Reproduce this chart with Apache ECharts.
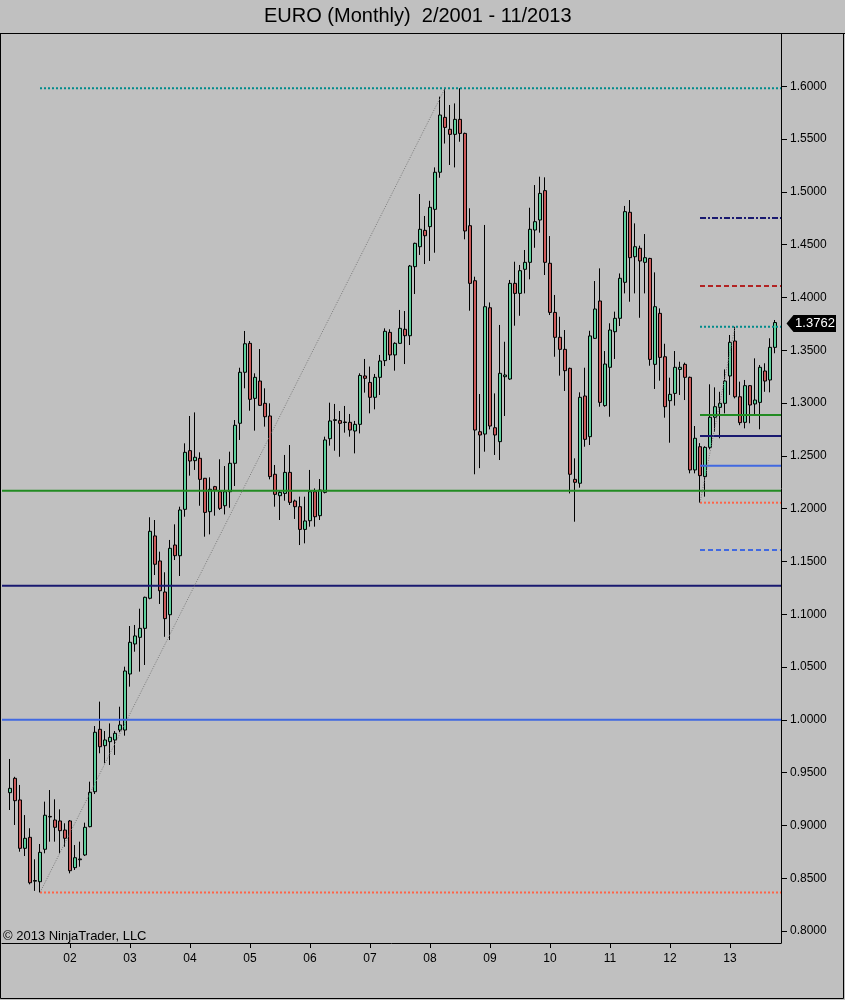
<!DOCTYPE html>
<html>
<head>
<meta charset="utf-8">
<script src="https://cdn.jsdelivr.net/npm/echarts@6/dist/echarts.min.js"></script>
<style>
html,body{margin:0;padding:0;background:#C0C0C0;}
#c{width:845px;height:1000px;}
</style>
</head>
<body>
<div id="c"></div>
<script>
// ---- Monthly bars, index 0 = Jan 2001 ... index 153 = Oct 2013 ----
const months = [];
for (let y = 2001; y <= 2013; y++) {
  for (let m = 1; m <= 12; m++) {
    if (y === 2013 && m > 10) break;
    months.push(y + '-' + (m < 10 ? '0' + m : m));
  }
}

const opens = [
0.9310,0.9446,0.9241,0.8783,0.8887,0.8472,0.8467,0.8774,0.9085,0.9051,0.9042,0.8956,
0.9042,0.8600,0.8675,0.8720,0.8988,0.9319,0.9910,0.9755,0.9793,0.9809,0.9903,0.9903,
1.0434,1.0718,1.0781,1.0866,1.1151,1.1741,1.1504,1.1210,1.0995,1.1655,1.1554,1.1993,
1.2549,1.2454,1.2476,1.2287,1.1971,1.2208,1.2160,1.2027,1.2160,1.2429,1.2808,1.3291,
1.3565,1.3044,1.3208,1.2997,1.2877,1.2325,1.2122,1.2144,1.2343,1.2072,1.2018,1.1803,
1.1885,1.2160,1.1933,1.2154,1.2662,1.2835,1.2833,1.2815,1.2817,1.2735,1.2798,1.3256,
1.3195,1.3054,1.3243,1.3401,1.3669,1.3455,1.3565,1.3698,1.3637,1.4291,1.4480,1.4635,
1.4670,1.4834,1.5185,1.5705,1.5592,1.5544,1.5686,1.5553,1.4679,1.4158,1.2728,1.2706,
1.3902,1.2766,1.2634,1.3249,1.3227,1.4133,1.4038,1.4266,1.4332,1.4638,1.4733,1.5011,
1.4323,1.3858,1.3622,1.3508,1.3328,1.2277,1.2240,1.3066,1.2681,1.3612,1.3966,1.2975,
1.3338,1.3675,1.3802,1.4143,1.4806,1.4385,1.4465,1.4332,1.4369,1.3366,1.3849,1.3438,
1.3022,1.3091,1.3318,1.3366,1.3243,1.2366,1.2586,1.2303,1.2580,1.2865,1.2959,1.2997,
1.3256,1.3587,1.3059,1.2817,1.3164,1.2991,1.3006,1.3303,1.3218,1.3527
];
const highs = [
0.9629,0.9460,0.9383,0.9098,0.8973,0.8679,0.8824,0.9225,0.9335,0.9247,0.9152,0.9020,
0.9051,0.8814,0.8846,0.9026,0.9414,0.9941,1.0172,0.9894,0.9966,0.9894,1.0124,1.0503,
1.0888,1.0898,1.1052,1.1166,1.1918,1.1892,1.1592,1.1397,1.1703,1.1851,1.2018,1.2618,
1.2877,1.2911,1.2533,1.2290,1.2296,1.2215,1.2467,1.2403,1.2539,1.2839,1.3334,1.3682,
1.3587,1.3281,1.3511,1.3139,1.2997,1.2413,1.2170,1.2508,1.2602,1.2085,1.2113,1.2113,
1.2366,1.2191,1.2280,1.2681,1.3003,1.2991,1.2924,1.2972,1.2896,1.2830,1.3281,1.3417,
1.3345,1.3275,1.3455,1.3707,1.3698,1.3575,1.3881,1.3871,1.4307,1.4518,1.4979,1.4771,
1.4915,1.5231,1.5901,1.5971,1.5822,1.5837,1.5980,1.5560,1.4844,1.4196,1.3085,1.4686,
1.3952,1.3091,1.3739,1.3580,1.4165,1.4338,1.4307,1.4449,1.4849,1.5064,1.5143,1.5137,
1.4581,1.4023,1.3817,1.3691,1.3335,1.2476,1.3101,1.3334,1.3684,1.4155,1.4275,1.3492,
1.3755,1.3865,1.4227,1.4866,1.4922,1.4701,1.4490,1.4600,1.4375,1.4237,1.3896,1.3561,
1.3240,1.3492,1.3391,1.3382,1.3250,1.2782,1.2620,1.2590,1.3177,1.3148,1.3106,1.3318,
1.3644,1.3722,1.3202,1.3218,1.3170,1.3423,1.3360,1.3376,1.3613,1.3786
];
const lows = [
0.9146,0.9004,0.8751,0.8710,0.8442,0.8380,0.8365,0.8736,0.8846,0.8846,0.8736,0.8798,
0.8546,0.8578,0.8609,0.8710,0.8982,0.9297,0.9683,0.9588,0.9572,0.9667,0.9882,0.9850,
1.0314,1.0645,1.0456,1.0519,1.1141,1.1371,1.1097,1.0786,1.0756,1.1513,1.1362,1.1923,
1.2312,1.2366,1.2027,1.1734,1.1756,1.1933,1.1987,1.1945,1.2008,1.2214,1.2650,1.3139,
1.2927,1.2738,1.2972,1.2776,1.2277,1.2018,1.1892,1.2075,1.2034,1.1902,1.1655,1.1671,
1.1829,1.1829,1.1892,1.2144,1.2596,1.2548,1.2491,1.2719,1.2681,1.2523,1.2712,1.3098,
1.2902,1.2940,1.3076,1.3350,1.3407,1.3306,1.3561,1.3369,1.3549,1.4032,1.4402,1.4316,
1.4345,1.4423,1.5133,1.5457,1.5254,1.5231,1.5474,1.4550,1.3874,1.2325,1.2383,1.2539,
1.2750,1.2508,1.2460,1.2877,1.3218,1.3732,1.3826,1.4038,1.4171,1.4470,1.4613,1.4212,
1.3833,1.3438,1.3259,1.3114,1.2144,1.1876,1.2198,1.2586,1.2602,1.3606,1.2965,1.2965,
1.2870,1.3417,1.3729,1.4038,1.3959,1.4038,1.3807,1.4038,1.3353,1.3133,1.3211,1.2861,
1.2624,1.2975,1.3076,1.3028,1.2334,1.2334,1.2056,1.2113,1.2561,1.2728,1.2666,1.2902,
1.3076,1.3044,1.2790,1.2760,1.2808,1.2886,1.2751,1.3106,1.3101,1.3471
];
const closes = [
0.9351,0.9234,0.8783,0.8878,0.8457,0.8478,0.8745,0.9096,0.9080,0.8982,0.8950,0.8878,
0.8571,0.8694,0.8682,0.8982,0.9313,0.9882,0.9745,0.9809,0.9834,0.9872,0.9951,1.0462,
1.0734,1.0794,1.0866,1.1160,1.1785,1.1473,1.1222,1.0958,1.1624,1.1554,1.1987,1.2533,
1.2451,1.2486,1.2277,1.1964,1.2183,1.2176,1.2002,1.2160,1.2429,1.2789,1.3291,1.3561,
1.3035,1.3243,1.2978,1.2870,1.2303,1.2135,1.2154,1.2343,1.2059,1.2018,1.1803,1.1883,
1.2160,1.1923,1.2176,1.2650,1.2830,1.2842,1.2808,1.2820,1.2744,1.2798,1.3261,1.3234,
1.3054,1.3243,1.3398,1.3679,1.3455,1.3565,1.3707,1.3637,1.4297,1.4512,1.4645,1.4584,
1.4853,1.5185,1.5727,1.5610,1.5544,1.5686,1.5553,1.4629,1.4133,1.2744,1.2697,1.3912,
1.2782,1.2697,1.3281,1.3265,1.4133,1.4038,1.4253,1.4332,1.4645,1.4717,1.4985,1.4332,
1.3858,1.3622,1.3508,1.3306,1.2325,1.2249,1.3054,1.2656,1.3635,1.3890,1.3006,1.3369,
1.3691,1.3802,1.4181,1.4812,1.4376,1.4480,1.4345,1.4376,1.3413,1.3912,1.3432,1.2965,
1.3082,1.3338,1.3338,1.3243,1.2366,1.2666,1.2312,1.2580,1.2865,1.2965,1.2997,1.3208,
1.3575,1.3059,1.2814,1.3164,1.2981,1.3028,1.3338,1.3208,1.3527,1.3762
];

// Axis ticks
const yearTicks  = [12,24,36,48,60,72,84,96,108,120,132,144];   // January of each year
const yearLabels = ['02','03','04','05','06','07','08','09','10','11','12','13'];
const priceTicks = [0.80,0.85,0.90,0.95,1.00,1.05,1.10,1.15,1.20,1.25,1.30,1.35,1.40,1.45,1.50,1.55,1.60];

// Drawn levels (price values), anchored at bar indices
const longLevels      = [1.5980, 0.8365, 1.0000, 1.1270, 1.2170];
const longLevelStart  = [6, 6, null, null, null];       // null = from left edge
const shortLevels     = [1.4752, 1.4108, 1.3722, 1.2886, 1.2688, 1.2406, 1.2056, 1.1608];
const shortLevelStart = 138;
const trendLines = [
  [[6, 0.8365], [87, 1.5980]],
  [[138, 1.2056], [145, 1.3722]]
];

// ---- styles ----
const longStyles = [
  {color:'#008B8B', width:2, type:[2,2]},
  {color:'#FF6347', width:2, type:[2,2]},
  {color:'#4169E1', width:2, type:'solid'},
  {color:'#191970', width:2, type:'solid'},
  {color:'#228B22', width:2, type:'solid'}
];
const shortStyles = [
  {color:'#191970', width:2, type:[6,2,2,2]},
  {color:'#B22222', width:2, type:[5,3]},
  {color:'#008B8B', width:2, type:[2,2]},
  {color:'#228B22', width:2, type:'solid'},
  {color:'#191970', width:2, type:'solid'},
  {color:'#4169E1', width:2, type:'solid'},
  {color:'#FF6347', width:2, type:[2,2]},
  {color:'#4169E1', width:2, type:[5,3]}
];

const X_MIN = -1.6, X_MAX = 154.2;
const Y_MIN = 0.78864, Y_MAX = 1.64943;
const FONT = 'Liberation Sans, Arial, sans-serif';

const chart = echarts.init(document.getElementById('c'), null, {renderer:'canvas'});

const series = [{
  type: 'candlestick',
  name: 'EURO',
  data: opens.map((o, i) => [i, o, closes[i], lows[i], highs[i]]),
  barWidth: 3,
  itemStyle: {
    color: '#5DD09C', color0: '#CB5A5A',
    borderColor: '#000', borderColor0: '#000', borderColorDoji: '#000',
    borderWidth: 1
  },
  z: 2
}];

longLevels.forEach((v, k) => {
  const x0 = longLevelStart[k] == null ? X_MIN : longLevelStart[k];
  series.push({
    type: 'line', silent: true, symbol: 'none', animation: false, z: 3,
    data: [[x0, v], [X_MAX, v]],
    lineStyle: longStyles[k]
  });
});
shortLevels.forEach((v, k) => {
  series.push({
    type: 'line', silent: true, symbol: 'none', animation: false, z: 3,
    data: [[shortLevelStart, v], [X_MAX, v]],
    lineStyle: shortStyles[k]
  });
});
trendLines.forEach(seg => {
  series.push({
    type: 'line', silent: true, symbol: 'none', animation: false, z: 3,
    data: seg,
    lineStyle: {color:'#7a7a7a', width:1, type:[1,1.5]}
  });
});

chart.setOption({
  backgroundColor: '#C0C0C0',
  animation: false,
  title: {
    text: 'EURO (Monthly)  2/2001 - 11/2013',
    left: 264, top: 6, padding: 0,
    textStyle: {fontFamily: FONT, fontSize: 20, fontWeight: 'normal', color: '#000'}
  },
  grid: {left: 2, right: 64, top: 34, bottom: 57, show: false},
  xAxis: {
    type: 'value', min: X_MIN, max: X_MAX,
    axisLine: {show: true, onZero: false, lineStyle: {color: '#000', width: 1}},
    axisTick: {show: true, customValues: yearTicks, length: 5, lineStyle: {color: '#000'}},
    axisLabel: {
      show: true, customValues: yearTicks, margin: 10,
      fontFamily: FONT, fontSize: 12, color: '#000',
      formatter: v => { const k = yearTicks.indexOf(Math.round(v)); return k >= 0 ? yearLabels[k] : ''; }
    },
    splitLine: {show: false}
  },
  yAxis: {
    type: 'value', position: 'right', min: Y_MIN, max: Y_MAX, scale: true,
    axisLine: {show: true, onZero: false, lineStyle: {color: '#000', width: 1}},
    axisTick: {show: true, customValues: priceTicks, length: 6, lineStyle: {color: '#000'}},
    axisLabel: {
      show: true, customValues: priceTicks, margin: 9,
      fontFamily: FONT, fontSize: 12, color: '#000',
      formatter: v => Number(v).toFixed(4)
    },
    splitLine: {show: false}
  },
  series: series
});

// price tag + frame
const last = closes[closes.length - 1];
const py = Math.round(chart.convertToPixel({yAxisIndex: 0}, last)) + 0.5;
chart.setOption({
  graphic: [
    {type:'line', id:'topline', shape:{x1:0, y1:33.5, x2:845, y2:33.5}, style:{stroke:'#000', lineWidth:1}, z:100},
    {type:'rect', id:'frame', shape:{x:0.5, y:33.5, width:843, height:965}, style:{fill:null, stroke:'#000', lineWidth:1}, z:100},
    {type:'text', id:'copy', x:3, y:936, style:{text:'\u00A9 2013 NinjaTrader, LLC', font:'13px ' + FONT, fill:'#000', textVerticalAlign:'middle'}, z:100},
    {type:'polygon', id:'tagbox', shape:{points:[[786.5, py],[793.5, py-8.5],[836, py-8.5],[836, py+8.5],[793.5, py+8.5]]}, style:{fill:'#000'}, z:100},
    {type:'text', id:'tagtxt', x:815, y:py, style:{text: last.toFixed(4), font:'13px ' + FONT, fill:'#fff', textAlign:'center', textVerticalAlign:'middle'}, z:101}
  ]
});
</script>
</body>
</html>
